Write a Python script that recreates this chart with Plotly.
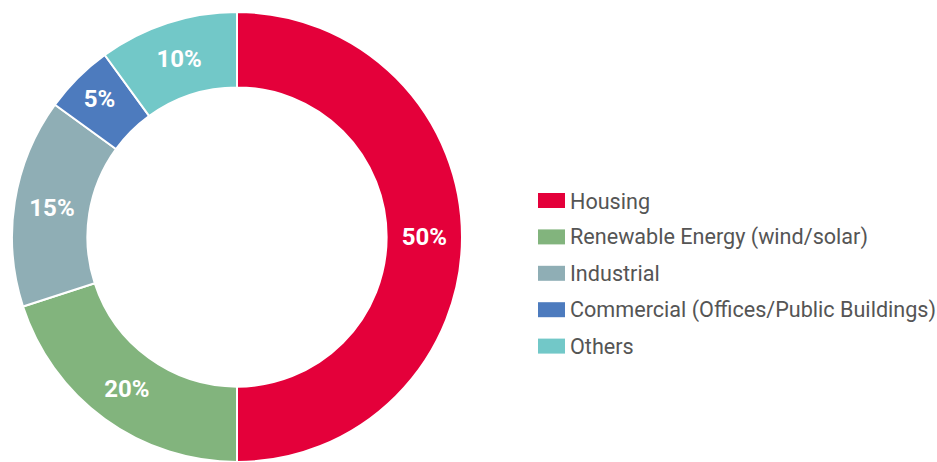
import plotly.graph_objects as go

labels = ["Housing", "Renewable Energy (wind/solar)", "Industrial",
          "Commercial (Offices/Public Buildings)", "Others"]
values = [50, 20, 15, 5, 10]
colors = ["#E4003A", "#82B47D", "#8FAEB5", "#4D7BBE", "#72C8C8"]

W, H = 937, 462

fig = go.Figure()
fig.add_trace(go.Pie(
    labels=labels, values=values,
    hole=0.665, sort=False, direction="clockwise", rotation=0,
    marker=dict(colors=colors, line=dict(color="white", width=2)),
    textinfo="percent", textposition="inside",
    insidetextorientation="horizontal",
    texttemplate="%{percent:.0%}",
    textfont=dict(family="Roboto", size=24, color="white", weight="bold"),
    domain=dict(x=[12 / W, 462 / W], y=[0, 450 / H]),
    showlegend=False,
))

# Legend drawn as squares + text
top0 = 200.5
step = 36.4
for i, (lab, col) in enumerate(zip(labels, colors)):
    yc = top0 + i * step
    fig.add_shape(type="rect", xref="paper", yref="paper",
                  x0=538 / W, x1=565 / W,
                  y0=1 - (yc + 7.5) / H, y1=1 - (yc - 7.5) / H,
                  fillcolor=col, line=dict(width=0))
    fig.add_annotation(xref="paper", yref="paper", x=568 / W, y=1 - (yc + 0.5) / H,
                       xanchor="left", yanchor="middle", showarrow=False,
                       text=lab, font=dict(family="Roboto", size=21.6, color="#555555"))

fig.update_layout(
    width=W, height=H, margin=dict(l=0, r=0, t=0, b=0),
    paper_bgcolor="white", plot_bgcolor="white",
)
fig.write_html("out.html")
